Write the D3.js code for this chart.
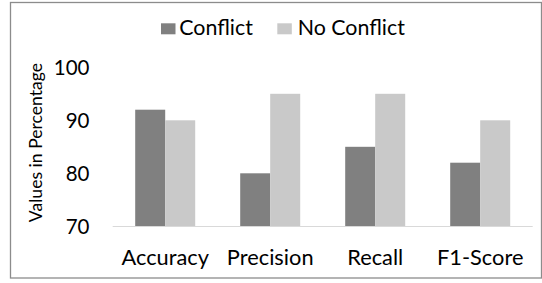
<!DOCTYPE html>
<html>
<head>
<meta charset="utf-8">
<script src="https://cdn.jsdelivr.net/npm/d3@7"></script>
<style>
  html, body { margin: 0; padding: 0; background: #fff; }
  svg { display: block; }
  text { font-family: Lato, "Open Sans", sans-serif; fill: #000; }
</style>
</head>
<body>
<svg id="chart" width="542" height="283"></svg>
<script>
const categories = ["Accuracy", "Precision", "Recall", "F1-Score"];
const seriesNames = ["Conflict", "No Conflict"];
const conflictValues = [92, 80, 85, 82];
const noConflictValues = [90, 95, 95, 90];
const yTicks = [70, 80, 90, 100];
const yTitle = "Values in Percentage";

const colors = ["#808080", "#c9c9c9"];
const series = [conflictValues, noConflictValues];

const svg = d3.select("#chart");

// outer border
svg.append("rect")
  .attr("x", 10.5).attr("y", 2.5)
  .attr("width", 531).attr("height", 275.5)
  .attr("fill", "none").attr("stroke", "#8c8c8c").attr("stroke-width", 1.3);

const x0 = d3.scaleBand().domain(categories)
  .range([112.7, 532.7]).paddingInner(0.4286).paddingOuter(0.2143);
const x1 = d3.scaleBand().domain(seriesNames)
  .range([0, x0.bandwidth()]).padding(0);
const y = d3.scaleLinear().domain([70, 100]).range([226.3, 67.3]);

// bars
const g = svg.append("g");
categories.forEach((c, i) => {
  seriesNames.forEach((s, j) => {
    const v = series[j][i];
    g.append("rect")
      .attr("x", x0(c) + x1(s))
      .attr("y", y(v))
      .attr("width", x1.bandwidth())
      .attr("height", y(70) - y(v))
      .attr("fill", colors[j]);
  });
});

// baseline
svg.append("line")
  .attr("x1", x0.range()[0]).attr("x2", x0.range()[1])
  .attr("y1", y(70) + 0.2).attr("y2", y(70) + 0.2)
  .attr("stroke", "#d9d9d9").attr("stroke-width", 1);

// y tick labels
const yAxis = d3.axisLeft(y).tickValues(yTicks).tickSize(0).tickPadding(0);
const ya = svg.append("g").attr("transform", "translate(89.5,0)").call(yAxis);
ya.select(".domain").remove();
ya.selectAll("text")
  .attr("font-family", "Lato, sans-serif")
  .attr("font-size", 20.5)
  .attr("fill", "#000")
  .attr("dy", "0.34em");

// x labels
const xAxis = d3.axisBottom(x0).tickSize(0).tickPadding(0);
const xa = svg.append("g").attr("transform", `translate(0,${y(70)})`).call(xAxis);
xa.select(".domain").remove();
xa.selectAll("text")
  .attr("font-family", "Lato, sans-serif")
  .attr("font-size", 21.8)
  .attr("fill", "#000")
  .attr("dy", null)
  .attr("y", 265 - y(70));

// y title
svg.append("text")
  .attr("transform", "translate(41.5,142.5) rotate(-90)")
  .attr("text-anchor", "middle")
  .attr("font-size", 17.6)
  .text(yTitle);

// legend
const legendX = [161, 277.3];
const legendTextX = [179.3, 297.7];
seriesNames.forEach((s, j) => {
  svg.append("rect")
    .attr("x", legendX[j]).attr("y", 23.3)
    .attr("width", 14.5).attr("height", 11)
    .attr("fill", colors[j]);
  svg.append("text")
    .attr("x", legendTextX[j]).attr("y", 35)
    .attr("font-size", 21.4)
    .text(s);
});
</script>
</body>
</html>
